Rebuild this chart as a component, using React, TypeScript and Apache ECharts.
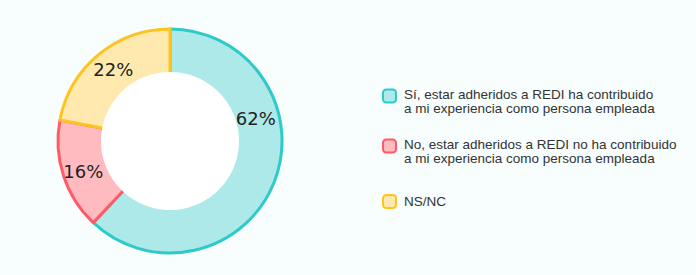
import React, { useEffect, useRef } from "react";
import * as echarts from "echarts";

const categories = [
  "Sí, estar adheridos a REDI ha contribuido\na mi experiencia como persona empleada",
  "No, estar adheridos a REDI no ha contribuido\na mi experiencia como persona empleada",
  "NS/NC",
];
const values = [62, 16, 22];
const fills = ["#ade9e9", "#ffbbc0", "#ffe9ae"];
const borders = ["#2ecaca", "#ff5a66", "#ffc31f"];
const legendTops = [79, 129, 194];
const legendSpacer = [true, true, false];
const labelOffsets = [[3, -55], [-2, 3], [0, -3]];

export default function App() {
  const ref = useRef<HTMLDivElement>(null);
  useEffect(() => {
    document.body.style.margin = "0";
    const chart = echarts.init(ref.current!, null, { renderer: "svg" });
    const data = values.map((v, i) => ({
      name: categories[i],
      value: v,
      itemStyle: { color: fills[i], borderColor: borders[i], borderWidth: 3 },
      label: { offset: labelOffsets[i] },
    }));
    const font = "'Liberation Sans', Arial, sans-serif";
    chart.setOption({
      animation: false,
      backgroundColor: "#f8fdfe",
      legend: categories.map((c, i) => ({
        data: [c],
        left: 382,
        top: legendTops[i],
        padding: 0,
        itemWidth: 13,
        itemHeight: 13,
        icon: "roundRect",
        selectedMode: false,
        itemStyle: { borderWidth: 2 },
        formatter: (name: string) =>
          (legendSpacer[i] ? "{p| }\n" : "") +
          name
            .split("\n")
            .map((l) => "{t|" + l + "}")
            .join("\n"),
        textStyle: {
          fontFamily: font,
          fontSize: 13.5,
          color: "#333333",
          rich: {
            p: { fontSize: 6, lineHeight: 10, padding: [0, 0, 0, 3] },
            t: {
              fontFamily: font,
              fontSize: 13.5,
              lineHeight: 14,
              color: "#333333",
              padding: [0, 0, 0, 3],
            },
          },
        },
      })),
      graphic: [
        {
          type: "circle",
          z: 100,
          shape: { cx: 170, cy: 141, r: 69 },
          style: { fill: "#ffffff" },
          silent: true,
        },
      ],
      series: [
        {
          type: "pie",
          center: [170, 141],
          radius: [60, 112],
          startAngle: 90,
          clockwise: true,
          avoidLabelOverlap: false,
          label: {
            show: true,
            position: "inside",
            formatter: "{c}%",
            fontFamily: "DejaVu Sans",
            fontSize: 18,
            color: "#222222",
          },
          labelLine: { show: false },
          emphasis: { disabled: true },
          data,
        },
      ],
    });
    return () => chart.dispose();
  }, []);
  return <div ref={ref} style={{ width: 696, height: 275 }} />;
}
